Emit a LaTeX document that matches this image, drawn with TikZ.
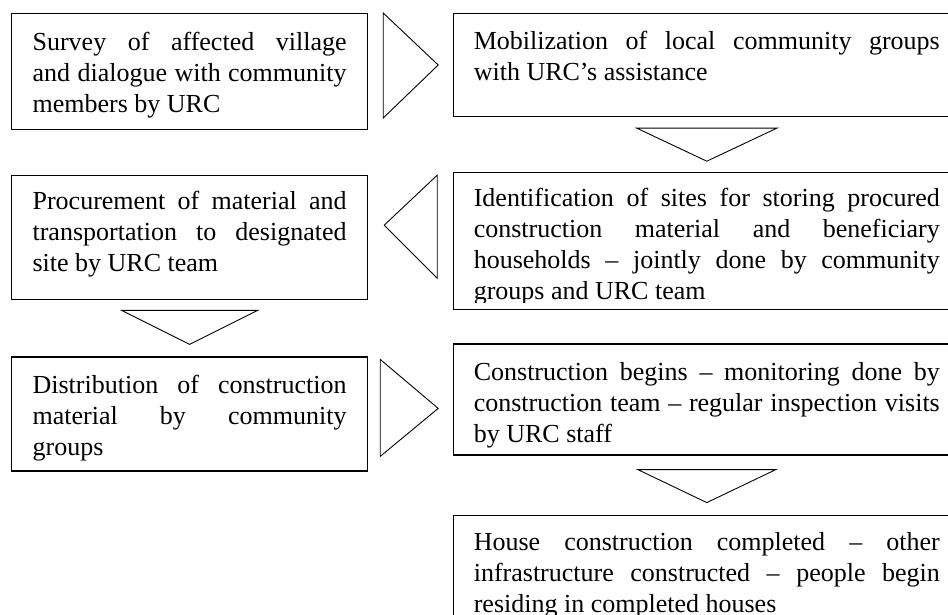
\documentclass[tikz,border=0pt]{standalone}
\usepackage{fontspec}
\setmainfont{Liberation Serif}
\usetikzlibrary{calc,positioning}

\begin{document}
\begin{tikzpicture}[x=1pt,y=-1pt]
	\tikzstyle{StageStyle} = [draw, line width=1.2pt, anchor=north west, inner ysep=0pt, font=\fontsize{26}{31}\selectfont]
	\tikzstyle{FlowStyle}  = [draw, line width=0.9pt, line join=miter]
	\useasboundingbox (0,0) rectangle (948,615);

	% left column
	\node[StageStyle, inner xsep=21pt] (survey) at (11,13)
		{\parbox[t][116pt][t]{314pt}{\rule{0pt}{37pt}Survey of affected village\linebreak and dialogue with community\linebreak members by URC}};
	\node[StageStyle, inner xsep=21pt, below=45pt of survey.south west, anchor=north west] (procure)
		{\parbox[t][124pt][t]{314pt}{\rule{0pt}{34pt}Procurement of material and\linebreak transportation to designated\linebreak site by URC team}};
	\node[StageStyle, inner xsep=21pt, below=56pt of procure.south west, anchor=north west] (distrib)
		{\parbox[t][114pt][t]{314pt}{\rule{0pt}{36pt}Distribution of construction\linebreak material by community\linebreak groups}};

	% right column
	\node[StageStyle, inner xsep=20pt, right=85pt of survey.north east, anchor=north west] (mobil)
		{\parbox[t][103pt][t]{466pt}{\rule{0pt}{36pt}Mobilization of local community groups\linebreak with URC’s assistance}};
	\node[StageStyle, inner xsep=20pt, below=55pt of mobil.south west, anchor=north west] (ident)
		{\parbox[t][137pt][t]{466pt}{\rule{0pt}{34pt}Identification of sites for storing procured\linebreak construction material and beneficiary\linebreak households – jointly done by community\linebreak groups and URC team}};
	\fill[white] ($(ident.south west)+(1,-1)$) rectangle ($(ident.south east)+(-1,-7)$);
	\node[StageStyle, inner xsep=20pt, below=33pt of ident.south west, anchor=north west] (construct)
		{\parbox[t][111pt][t]{466pt}{\rule{0pt}{36pt}Construction begins – monitoring done by\linebreak construction team – regular inspection visits\linebreak by URC staff}};
	\node[StageStyle, inner xsep=20pt, below=59pt of construct.south west, anchor=north west] (house)
		{\parbox[t][120pt][t]{466pt}{\rule{0pt}{35pt}House construction completed – other\linebreak infrastructure constructed – people begin\linebreak residing in completed houses}};

	% flow triangles
	\draw[FlowStyle] ($(survey.north east)+(15,0)$) -- ($(survey.north east)+(70,52)$) -- ($(survey.north east)+(15,105)$) -- cycle;
	\draw[FlowStyle] ($(mobil.south)+(-70,11)$) -- ($(mobil.south)+(70,11)$) -- ($(mobil.south)+(0,44)$) -- cycle;
	\draw[FlowStyle] ($(procure.north east)+(69,0)$) -- ($(procure.north east)+(16,50)$) -- ($(procure.north east)+(69,103)$) -- cycle;
	\draw[FlowStyle] ($(procure.south)+(-68,10)$) -- ($(procure.south)+(68,10)$) -- ($(procure.south)+(0,44)$) -- cycle;
	\draw[FlowStyle] ($(distrib.north east)+(12,3)$) -- ($(distrib.north east)+(70,52)$) -- ($(distrib.north east)+(12,100)$) -- cycle;
	\draw[FlowStyle] ($(construct.south)+(-69,14)$) -- ($(construct.south)+(69,14)$) -- ($(construct.south)+(0,47)$) -- cycle;
\end{tikzpicture}
\end{document}
